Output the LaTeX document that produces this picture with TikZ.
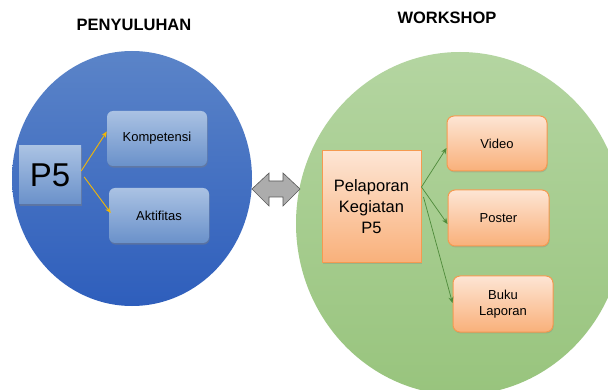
\documentclass[tikz,border=0pt]{standalone}
\usepackage{fontspec}
\setmainfont{Liberation Sans}
\usetikzlibrary{shadows,arrows.meta,calc}
\definecolor{bluetop}{HTML}{5B84C8}
\definecolor{bluebot}{HTML}{2E5EBC}
\definecolor{bboxtop}{HTML}{AAC2E3}
\definecolor{bboxbot}{HTML}{6A91CA}
\definecolor{greentop}{HTML}{B4D5A1}
\definecolor{greenbot}{HTML}{98C47D}
\definecolor{otop}{HTML}{FDE5D4}
\definecolor{obot}{HTML}{F9B07A}
\definecolor{oborder}{HTML}{F59A50}
\definecolor{yarrow}{HTML}{F2B705}
\definecolor{garrow}{HTML}{4E8A3A}
\tikzset{
  bluebox/.style={top color=bboxtop, bottom color=bboxbot, draw=none,
    drop shadow={opacity=0.45, shadow xshift=0.6pt, shadow yshift=-1.6pt},
    align=center, inner sep=2pt},
  orangebox/.style={top color=otop, bottom color=obot, draw=oborder, line width=1pt,
    drop shadow={opacity=0.3, shadow xshift=0.6pt, shadow yshift=-1.4pt},
    align=center, inner sep=2pt},
  title/.style={font=\bfseries\fontsize{16.5}{19}\selectfont, text=black},
  small/.style={font=\fontsize{13}{16.5}\selectfont},
  yarr/.style={draw=yarrow, line width=0.9pt, -{Stealth[length=6pt,width=5pt]}},
  garr/.style={draw=garrow, line width=0.7pt, -{Stealth[length=6pt,width=5pt]}}
}
\begin{document}
\begin{tikzpicture}[x=1pt,y=-1pt]
\useasboundingbox (0,0) rectangle (608,390);
\fill[white] (0,0) rectangle (608,390);
\clip (0,0) rectangle (608,390);
% circles
\path[top color=bluetop, bottom color=bluebot] (132,178.5) ellipse [x radius=120, y radius=127.5];
\path[top color=greentop, bottom color=greenbot] (460,223.5) ellipse [x radius=164, y radius=171.5];
% titles
\node[title] (t1) at (134,25) {PENYULUHAN};
\node[title] (t2) at (447,18) {WORKSHOP};
% left boxes
\node[bluebox, minimum width=62pt, minimum height=58pt, font=\fontsize{33}{36}\selectfont] (p5) at (50,175) {P5};
\node[bluebox, small, rounded corners=6pt, minimum width=100pt, minimum height=55pt] (komp) at (157,138.5) {Kompetensi};
\node[bluebox, small, rounded corners=6pt, minimum width=100pt, minimum height=55pt] (akt) at (159,215.5) {Aktifitas};
% right boxes
\node[orangebox, minimum width=99pt, minimum height=112pt, font=\fontsize{16.5}{21}\selectfont] (pel) at (371.5,207) {Pelaporan\\Kegiatan\\P5};
\node[orangebox, small, rounded corners=7pt, minimum width=100pt, minimum height=55pt] (vid) at (497,143.5) {Video};
\node[orangebox, small, rounded corners=7pt, minimum width=101pt, minimum height=56pt] (pos) at (498.5,218) {Poster};
\node[orangebox, small, rounded corners=7pt, minimum width=100pt, minimum height=56pt] (buku) at (503,304) {Buku\\Laporan};
% yellow arrows
\draw[yarr] ([yshift=4pt]p5.east) -- ([yshift=7pt]komp.west);
\draw[yarr] ([xshift=3pt,yshift=-2pt]p5.east) -- ([xshift=2pt,yshift=2.5pt]akt.west);
% green arrows
\draw[garr] ([yshift=20pt]pel.east) -- ([yshift=-4.5pt]vid.west);
\draw[garr] ([yshift=20pt]pel.east) -- ([yshift=-6pt]pos.west);
\draw[garr] ([xshift=2pt,yshift=10pt]pel.east) -- ([yshift=1pt]buku.west);
% double arrow
\coordinate (dl) at (252,189);
\coordinate (dr) at (300,189);
\draw[fill=gray!65, draw=black!65, line width=0.6pt, line join=miter]
  (dl) -- (269,173) -- (269,181) -- (283,181) -- (283,173) -- (dr)
  -- (283,206) -- (283,197) -- (269,197) -- (269,206) -- cycle;
\end{tikzpicture}
\end{document}
